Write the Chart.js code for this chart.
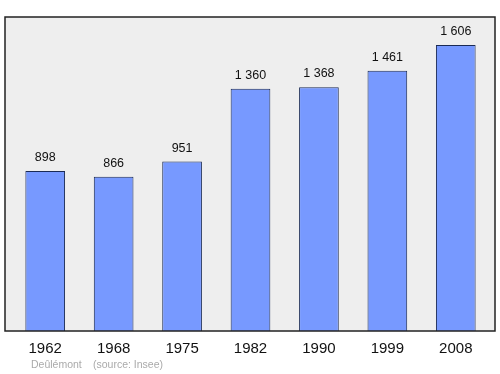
<!DOCTYPE html>
<html>
<head>
<meta charset="utf-8">
<script src="https://cdn.jsdelivr.net/npm/chart.js@4/dist/chart.umd.min.js"></script>
<style>
  body { margin: 0; background: #fff; }
</style>
</head>
<body>
<canvas id="myChart" width="500" height="374"></canvas>
<script>
// population by census year
const years = ['1962', '1968', '1975', '1982', '1990', '1999', '2008']
const population = [898, 866, 951, 1360, 1368, 1461, 1606]
const yMax = 1763
const footer = ['Deûlémont', '(source: Insee)']

// "1 360" style
const fmt = (v) => String(v).replace(/\B(?=(\d{3})+(?!\d))/g, ' ')

const frame = {
  id: 'frame',
  beforeDatasetsDraw(chart) {
    const { ctx, chartArea: a } = chart
    ctx.save()
    ctx.fillStyle = '#eeeeee'
    ctx.fillRect(a.left - 6, a.top, a.width + 11, a.height)
    ctx.restore()
  },
  afterDatasetsDraw(chart) {
    const { ctx, chartArea: a } = chart
    ctx.save()
    ctx.strokeStyle = '#222'
    ctx.lineWidth = 1.5
    ctx.strokeRect(a.left - 6, a.top, a.width + 11, a.height)
    // value labels over the bars
    ctx.fillStyle = '#111'
    ctx.font = '12.5px "Liberation Sans", Arial, sans-serif'
    ctx.textAlign = 'center'
    ctx.textBaseline = 'alphabetic'
    chart.getDatasetMeta(0).data.forEach((bar, i) => {
      ctx.fillText(fmt(population[i]), bar.x, bar.y - 10)
    })
    // source line
    ctx.fillStyle = '#aaaaaa'
    ctx.font = '10.5px "Liberation Sans", Arial, sans-serif'
    ctx.textAlign = 'left'
    ctx.textBaseline = 'middle'
    ctx.fillText(footer[0], 31, 365)
    ctx.fillText(footer[1], 93, 365)
    ctx.restore()
  }
}

const ctx = document.getElementById('myChart')
new Chart(ctx, {
  type: 'bar',
  data: {
    labels: years,
    datasets: [{
      data: population,
      backgroundColor: '#7799ff',
      borderColor: '#1a2a55',
      borderWidth: 1,
      barPercentage: 0.58,
      categoryPercentage: 1
    }]
  },
  options: {
    responsive: false,
    animation: false,
    layout: { padding: { left: 11, right: 10, top: 17, bottom: 15 } },
    scales: {
      x: {
        grid: { display: false },
        border: { display: false },
        ticks: {
          color: '#111',
          padding: 1,
          font: { size: 15, family: '"Liberation Sans", Arial, sans-serif' }
        }
      },
      y: { display: false, min: 0, max: yMax }
    },
    plugins: {
      legend: { display: false },
      tooltip: { enabled: false },
      title: { display: false }
    }
  },
  plugins: [frame]
})
</script>
</body>
</html>
